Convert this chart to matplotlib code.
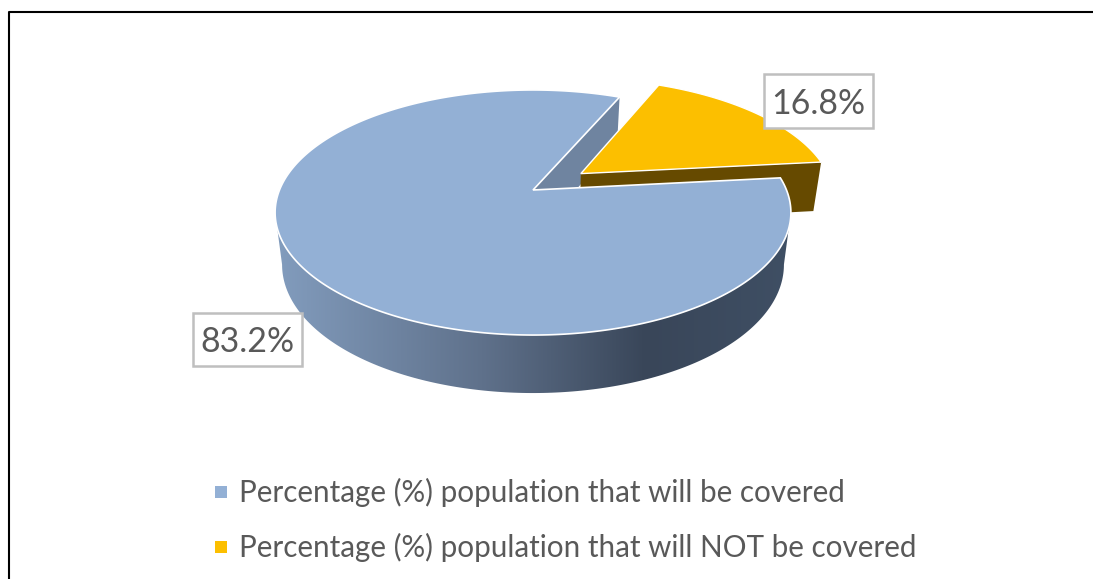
import numpy as np
import matplotlib.pyplot as plt
from matplotlib.patches import Polygon, Rectangle
from matplotlib.colors import LinearSegmentedColormap

plt.rcParams['font.family'] = ['Lato', 'DejaVu Sans']

labels = ['Percentage (%) population that will be covered',
          'Percentage (%) population that will NOT be covered']
values = [83.2, 16.8]
colors = ['#93b0d5', '#fcbf00']

TEXT = '#595959'
START_ANGLE = 6.0      # where the small slice begins, ccw from east
EXPLODE = 0.24         # pull-out of the small slice, in radii

# perspective of the pie plane, in pixels
CX, CY = 533.0, 190.0
A, B, K = 253.5, 118.4, 0.1837
SHRINK = 0.973


def project(u, v):
    w = 1 - K * v
    return CX + A * u / w, CY + B * v / w


def project_low(u, v):
    # same point on the underside of the pie
    x, y = project(u, v)
    return CX + (x - CX) * SHRINK, y + 49 + (v + 0.243) * 7.24


def rim(a0, a1, n=200):
    t = np.radians(np.linspace(a0, a1, n))
    return np.cos(t), -np.sin(t)


def poly(ax, xs, ys, **kw):
    p = Polygon(np.column_stack([xs, ys]), closed=True, **kw)
    ax.add_patch(p)
    return p


fig = plt.figure(figsize=(10.93, 5.79), dpi=100)
ax = fig.add_axes([0, 0, 1, 1])
ax.set_xlim(0, 1093)
ax.set_ylim(579, 0)
ax.axis('off')

# outer frame, open on the right and at the bottom
ax.plot([9, 9, 1100], [590, 12, 12], color='black', lw=1.5, zorder=1)

small_sweep = 360 * values[1] / sum(values)
small_end = START_ANGLE + small_sweep
mid = np.radians(START_ANGLE + small_sweep / 2)
du, dv = EXPLODE * np.cos(mid), -EXPLODE * np.sin(mid)

# cut face of the big slice seen through the gap
eu, ev = np.cos(np.radians(small_end)), -np.sin(np.radians(small_end))
x0, y0 = project(0, 0)
x1, y1 = project(eu, ev)
x2, y2 = project_low(eu, ev)
x3, y3 = project_low(0, 0)
poly(ax, [x0, x1, x2, x3], [y0, y1, y2, y3], fc='#6f84a0', ec='none', zorder=2)

# cut face of the small slice
eu, ev = np.cos(np.radians(START_ANGLE)), -np.sin(np.radians(START_ANGLE))
x0, y0 = project(du, dv)
x1, y1 = project(eu + du, ev + dv)
x2, y2 = project_low(eu + du, ev + dv)
x3, y3 = project_low(du, dv)
poly(ax, [x0, x1, x2, x3], [y0, y1, y2, y3], fc='#664a00', ec='none', zorder=3)

# top of the small slice
ru, rv = rim(START_ANGLE, small_end)
xs, ys = project(np.r_[0, ru] + du, np.r_[0, rv] + dv)
poly(ax, xs, ys, fc=colors[1], ec='white', lw=1.0, zorder=4)

# shaded outer wall of the big slice, between the widest points of the rim
edge = np.degrees(np.arcsin(K))
ru, rv = rim(180 + edge, 360 - edge)
xt, yt = project(ru, rv)
xb, yb = project_low(ru, rv)
wall = poly(ax, np.r_[xt, xb[::-1]], np.r_[yt, yb[::-1]], fc='none', ec='none', zorder=5)
shade = LinearSegmentedColormap.from_list(
    'wall', [(0, '#829cbd'), (0.4, '#5f718b'), (0.72, '#394659'), (1, '#3f4f64')])
im = ax.imshow(np.linspace(0, 1, 256)[None, :], cmap=shade, aspect='auto',
               extent=[277, 790, 579, 0], zorder=5)
im.set_clip_path(wall)
ax.set_xlim(0, 1093)
ax.set_ylim(579, 0)

# top of the big slice
ru, rv = rim(small_end, 360 + START_ANGLE, 500)
xs, ys = project(np.r_[0, ru], np.r_[0, rv])
poly(ax, xs, ys, fc=colors[0], ec='white', lw=1.2, zorder=6)

# value labels
boxes = [(193, 313, 109, 53), (764, 74, 109, 54)]
for v, (bx, by, bw, bh) in zip(values, boxes):
    ax.add_patch(Rectangle((bx, by), bw, bh, fc='white', ec='#bfbfbf', lw=1.8, zorder=7))
    ax.text(bx + bw / 2, by + bh / 2 + 2.5, f'{v}%', color=TEXT, fontsize=24.4,
            ha='center', va='center', zorder=8)

# legend
for name, c, y in zip(labels, colors, [492, 547]):
    ax.add_patch(Rectangle((215, y - 6), 12, 12, fc=c, ec='none', zorder=7))
    ax.text(239, y, name, color=TEXT, fontsize=21.3, ha='left', va='center', zorder=8)

fig.savefig('out.png', dpi=100)
